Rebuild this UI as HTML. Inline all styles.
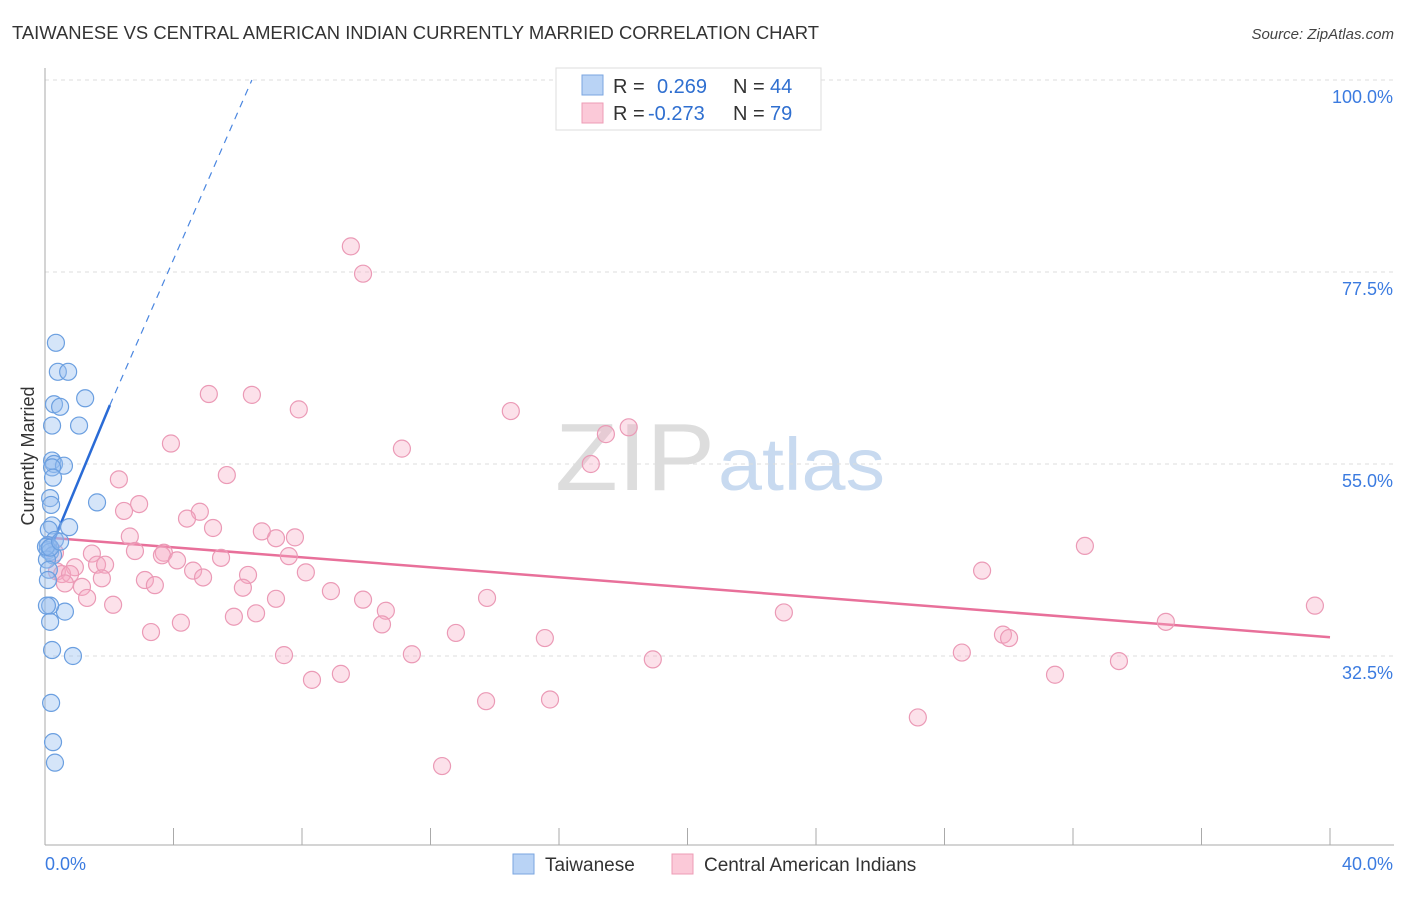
<!DOCTYPE html>
<html><head><meta charset="utf-8">
<style>
body{margin:0;background:#fff;font-family:"Liberation Sans",sans-serif;}
svg text{font-family:"Liberation Sans",sans-serif;}
</style></head>
<body>
<svg id="chart" width="1406" height="892" xmlns="http://www.w3.org/2000/svg">
<text x="12" y="39" font-size="18" fill="#333" textLength="807" lengthAdjust="spacingAndGlyphs">TAIWANESE VS CENTRAL AMERICAN INDIAN CURRENTLY MARRIED CORRELATION CHART</text>
<text x="1394" y="39" font-size="15" fill="#444" text-anchor="end" font-style="italic">Source: ZipAtlas.com</text>
<text x="715" y="490" font-size="96" fill="#ddd" text-anchor="end" font-family="Liberation Serif" textLength="160" lengthAdjust="spacingAndGlyphs">ZIP</text>
<text x="718" y="490" font-size="74" fill="#c8daf0" textLength="167" lengthAdjust="spacingAndGlyphs">atlas</text>
<g id="grid"></g>
<g id="axes"></g>
<g id="lines"></g>
<g id="pts"></g>
<text transform="translate(34,456) rotate(-90)" font-size="18" fill="#333" text-anchor="middle">Currently Married</text>
<g>
<rect x="556" y="68" width="265" height="62" fill="#fff" stroke="#ddd"/>
<rect x="582" y="75" width="21" height="20" fill="#b9d3f5" stroke="#7aa6e0"/>
<rect x="582" y="103" width="21" height="20" fill="#fbc9d8" stroke="#ee9cb6"/>
<text x="613" y="93" font-size="20" fill="#333">R =</text>
<text x="657" y="93" font-size="20" fill="#2f6fd0">0.269</text>
<text x="733" y="93" font-size="20" fill="#333">N =</text>
<text x="770" y="93" font-size="20" fill="#2f6fd0">44</text>
<text x="613" y="120" font-size="20" fill="#333">R =</text>
<text x="648" y="120" font-size="20" fill="#2f6fd0">-0.273</text>
<text x="733" y="120" font-size="20" fill="#333">N =</text>
<text x="770" y="120" font-size="20" fill="#2f6fd0">79</text>
</g>
<g>
<rect x="513" y="854" width="21" height="20" fill="#b9d3f5" stroke="#7aa6e0"/>
<text x="545" y="871" font-size="19" fill="#333">Taiwanese</text>
<rect x="672" y="854" width="21" height="20" fill="#fbc9d8" stroke="#ee9cb6"/>
<text x="704" y="871" font-size="19" fill="#333">Central American Indians</text>
</g>
</svg>
<script>
const yTicks=[100,77.5,55,32.5];
const xTickLabels=["0.0%","40.0%"];
const blueX=[0.34,0.40,0.72,1.25,0.28,0.47,0.22,1.06,0.22,0.28,0.59,0.22,0.25,1.62,0.16,0.19,0.22,0.75,0.12,0.31,0.09,0.09,0.16,0.25,0.06,0.12,0.09,0.62,0.16,0.06,0.16,0.22,0.87,0.19,0.25,0.31,0.03,0.16,0.47];
const blueY=[69.2,65.8,65.8,62.7,62.0,61.7,59.5,59.5,55.4,55.0,54.8,54.6,53.4,50.5,51.0,50.2,47.8,47.6,47.3,46.1,45.5,44.9,44.7,44.3,43.8,42.6,41.4,37.7,38.4,38.4,36.5,33.2,32.5,27.0,22.4,20.0,45.3,45.2,45.9];
const pinkX=[9.52,9.90,5.10,6.44,7.90,14.50,18.17,17.46,11.11,3.92,16.99,2.30,5.66,2.93,2.46,4.82,4.42,5.23,6.75,7.19,7.78,2.64,32.37,2.80,3.70,3.64,1.46,4.11,5.48,7.59,0.93,1.62,1.87,4.61,6.32,8.12,4.92,0.37,0.53,0.78,1.77,3.11,3.42,6.16,0.62,1.15,29.17,8.90,1.31,7.19,9.90,13.76,2.12,6.57,5.88,10.61,23.00,39.53,4.23,10.49,3.30,12.79,34.89,15.56,29.82,30.01,7.44,11.42,18.92,28.54,33.43,9.21,8.31,31.44,13.73,15.72,27.17,12.36,0.31];
const pinkY=[80.5,77.3,63.2,63.1,61.4,61.2,59.3,58.5,56.8,57.4,55.0,53.2,53.7,50.3,49.5,49.4,48.6,47.5,47.1,46.3,46.4,46.5,45.4,44.8,44.6,44.3,44.5,43.7,44.0,44.2,42.9,43.2,43.2,42.5,42.0,42.3,41.7,42.4,42.1,42.1,41.6,41.4,40.8,40.5,41.0,40.6,42.5,40.1,39.3,39.2,39.1,39.3,38.5,37.5,37.1,37.8,37.6,38.4,36.4,36.2,35.3,35.2,36.5,34.6,35.0,34.6,32.6,32.7,32.1,32.9,31.9,30.4,29.7,30.3,27.2,27.4,25.3,19.6,44.6];
const trendPink=[[0,46.4],[40,34.7]];
const trendBlue=[[0.06,44.1],[2.02,61.9],[6.44,100]];
const NS="http://www.w3.org/2000/svg";
const X=v=>45+v/40*1285;
const Y=v=>80+(100-v)*8.533;
function mk(t,a,p){const e=document.createElementNS(NS,t);for(const k in a)e.setAttribute(k,a[k]);p.appendChild(e);return e;}
const grid=document.getElementById('grid'),axes=document.getElementById('axes'),lines=document.getElementById('lines'),pts=document.getElementById('pts');
yTicks.forEach(t=>{
  const l=mk('line',{x1:45,x2:1394,y1:Y(t),y2:Y(t),stroke:'#ddd','stroke-dasharray':'4,4'},grid);
  
  
  const tx=mk('text',{x:1393,y:Y(t)+23,'font-size':18,fill:'#3b7be0','text-anchor':'end'},grid);
  tx.textContent=t.toFixed(1)+'%';
  
  
});
const ax=mk('line',{x1:45,x2:1394,y1:845,y2:845,stroke:'#aaa'},axes);


const ay=mk('line',{x1:45,x2:45,y1:68,y2:845,stroke:'#aaa'},axes);


for(let i=0;i<=10;i++){const x=X(i*4);const t=mk('line',{x1:x,x2:x,y1:828,y2:845,stroke:'#aaa'},axes);

}
[[0,'start',45],[1,'end',1393]].forEach(([i,a,x])=>{const t=mk('text',{x:x,y:870,'font-size':18,fill:'#3b7be0','text-anchor':a},axes);t.textContent=xTickLabels[i];

});
const tp=mk('line',{x1:X(trendPink[0][0]),y1:Y(trendPink[0][1]),x2:X(trendPink[1][0]),y2:Y(trendPink[1][1]),stroke:'#e8709a','stroke-width':2.5},lines);


const tb=mk('line',{x1:X(trendBlue[0][0]),y1:Y(trendBlue[0][1]),x2:X(trendBlue[1][0]),y2:Y(trendBlue[1][1]),stroke:'#2a6bd6','stroke-width':2.5},lines);


const td=mk('line',{x1:X(trendBlue[1][0]),y1:Y(trendBlue[1][1]),x2:X(trendBlue[2][0]),y2:Y(trendBlue[2][1]),stroke:'#4a86e0','stroke-width':1.2,'stroke-dasharray':'7,6'},lines);


pinkX.forEach((v,i)=>{const c=mk('circle',{cx:X(v),cy:Y(pinkY[i]),r:8.5,fill:'rgba(246,170,196,0.35)',stroke:'#eb9ab6','stroke-width':1.2},pts);

});
blueX.forEach((v,i)=>{const c=mk('circle',{cx:X(v),cy:Y(blueY[i]),r:8.5,fill:'rgba(150,190,240,0.4)',stroke:'#6b9fe0','stroke-width':1.2},pts);

});
</script>
</body></html>
